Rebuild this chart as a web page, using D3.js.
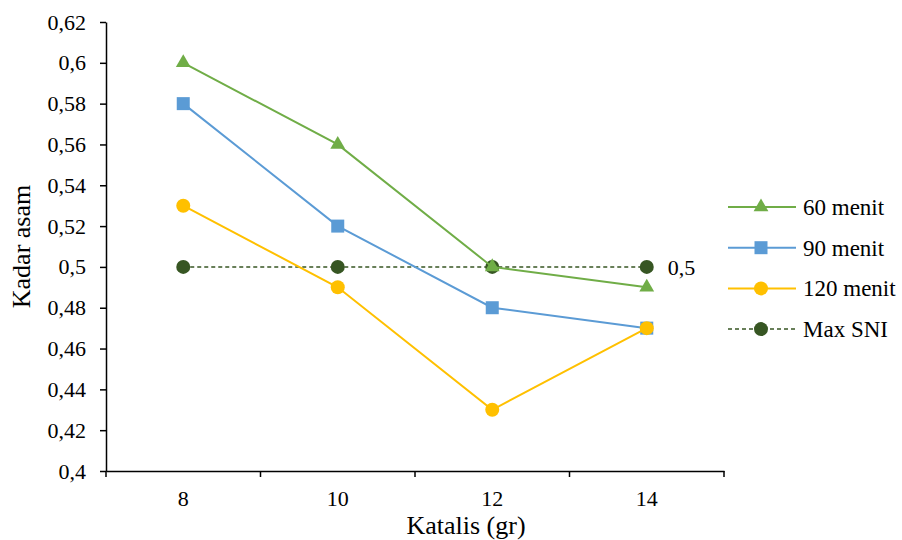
<!DOCTYPE html>
<meta charset="utf-8">
<style>
    body { margin: 0; background: #fff; }
    svg text { font-family: "Liberation Serif", "DejaVu Serif", "Noto Serif", serif; fill: #000; }
    .axis path, .axis line { stroke: #000; stroke-width: 1.5px; }
    .axis text { font-size: 22px; }
</style>
<svg width="902" height="540" font-family="Liberation Serif"></svg>
<script src="https://d3js.org/d3.v7.min.js"></script>
<script>

    var katalis = ["8", "10", "12", "14"];
    var menit60 = [0.60, 0.56, 0.50, 0.49];
    var menit90 = [0.58, 0.52, 0.48, 0.47];
    var menit120 = [0.53, 0.49, 0.43, 0.47];
    var maxSNI = [0.50, 0.50, 0.50, 0.50];
    var yTicks = [0.4, 0.42, 0.44, 0.46, 0.48, 0.5, 0.52, 0.54, 0.56, 0.58, 0.6, 0.62];

    var series = [
        {name: "60 menit", values: menit60, color: "#70AD47", shape: "triangle"},
        {name: "90 menit", values: menit90, color: "#5B9BD5", shape: "square"},
        {name: "120 menit", values: menit120, color: "#FFC000", shape: "circle"},
        {name: "Max SNI", values: maxSNI, color: "#375623", shape: "circle", dashed: true}
    ];

    var svg = d3.select("svg"),
        margin = {top: 22, left: 106, right: 178, bottom: 69},
        width = 902 - margin.left - margin.right,
        height = 540 - margin.top - margin.bottom;

    var x = d3.scaleBand().domain(katalis).range([0, width]);
    var y = d3.scaleLinear().domain([0.4, 0.62]).range([height, 0]);

    var g = svg.append("g")
        .attr("transform", "translate(" + margin.left + "," + margin.top + ")");

    var fmt = function(d) { return String(+d.toFixed(2)).replace(".", ","); };

    // y axis
    var yAxis = g.append("g").attr("class", "axis")
        .call(d3.axisLeft(y).tickValues(yTicks).tickFormat(fmt).tickSize(6).tickSizeOuter(0));
    yAxis.attr("font-family", null);
    yAxis.selectAll("text").attr("x", -20);

    // x axis with ticks at band edges
    var xAxis = g.append("g").attr("class", "axis")
        .attr("transform", "translate(0," + height + ")")
        .call(d3.axisBottom(x).tickSize(0).tickSizeOuter(0));
    xAxis.attr("font-family", null);
    xAxis.selectAll("text").attr("dy", "0.71em").attr("y", 19);
    xAxis.selectAll(".edge")
        .data(d3.range(katalis.length + 1))
        .enter().append("line")
        .attr("x1", function(i) { return i * x.bandwidth(); })
        .attr("x2", function(i) { return i * x.bandwidth(); })
        .attr("y1", 0).attr("y2", 6);

    var cx = function(d, i) { return x(katalis[i]) + x.bandwidth() / 2; };

    var line = d3.line()
        .x(cx)
        .y(function(d) { return y(d); });

    function drawMarker(sel, shape, color) {
        if (shape === "triangle") {
            sel.append("path").attr("d", d3.symbol(d3.symbolTriangle, 95)).attr("fill", color);
        } else if (shape === "square") {
            sel.append("rect").attr("x", -6.5).attr("y", -6.5).attr("width", 13).attr("height", 13).attr("fill", color);
        } else {
            sel.append("circle").attr("r", 7).attr("fill", color);
        }
    }

    // draw Max SNI first, then others on top in order
    var drawOrder = [3, 0, 1, 2];
    drawOrder.forEach(function(k) {
        var s = series[k];
        g.append("path")
            .datum(s.values)
            .attr("fill", "none")
            .attr("stroke", s.color)
            .attr("stroke-width", s.dashed ? 1.5 : 2)
            .attr("stroke-dasharray", s.dashed ? "4,3" : null)
            .attr("d", line);
        g.selectAll(".m" + k)
            .data(s.values)
            .enter().append("g")
            .attr("transform", function(d, i) { return "translate(" + cx(d, i) + "," + y(d) + ")"; })
            .each(function() { drawMarker(d3.select(this), s.shape, s.color); });
    });

    // data label for last Max SNI point
    g.append("text")
        .attr("x", cx(null, 3) + 21)
        .attr("y", y(maxSNI[3]))
        .attr("dy", "0.35em")
        .style("font-size", "22px")
        .text(fmt(maxSNI[3]));

    // axis titles
    svg.append("text")
        .attr("transform", "translate(30," + (margin.top + height / 2) + ") rotate(-90)")
        .attr("text-anchor", "middle")
        .style("font-size", "26px")
        .text("Kadar asam");

    svg.append("text")
        .attr("x", 466)
        .attr("y", 534)
        .attr("text-anchor", "middle")
        .style("font-size", "26px")
        .text("Katalis (gr)");

    // legend
    var legend = svg.append("g").attr("transform", "translate(728,207)");
    series.forEach(function(s, k) {
        var row = legend.append("g").attr("transform", "translate(0," + (k * 40.7) + ")");
        row.append("line")
            .attr("x1", 0).attr("x2", 68)
            .attr("stroke", s.color)
            .attr("stroke-width", s.dashed ? 1.5 : 2)
            .attr("stroke-dasharray", s.dashed ? "4,3" : null);
        var m = row.append("g").attr("transform", "translate(33,0)");
        drawMarker(m, s.shape, s.color);
        row.append("text")
            .attr("x", 75)
            .attr("dy", "0.35em")
            .style("font-size", "23px")
            .text(s.name);
    });

</script>
